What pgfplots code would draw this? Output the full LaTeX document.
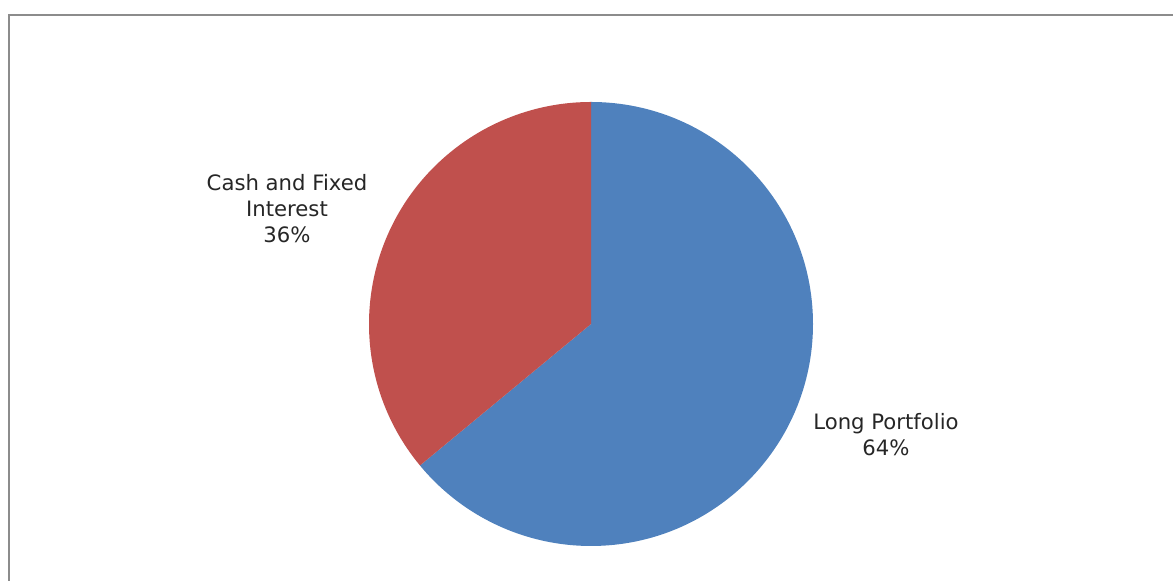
\documentclass[border=0pt]{standalone}
\usepackage{pgfplots}
\pgfplotsset{compat=1.18}
\usepackage{fontspec}
\setmainfont{DejaVu Sans}
\definecolor{pieblue}{HTML}{4F81BD}
\definecolor{piered}{HTML}{C0504D}
\definecolor{framegray}{HTML}{8C8C8C}
% data (percent)
\def\valLong{64}
\def\valCash{36}
\pgfmathsetmacro{\angA}{90}
\pgfmathsetmacro{\angB}{90-3.6*\valLong}
\pgfmathsetmacro{\angC}{\angB-3.6*\valCash}
\begin{document}
\begin{tikzpicture}
\begin{axis}[
  scale only axis, width=586.5pt, height=290.5pt,
  xmin=0, xmax=1173, ymin=0, ymax=581,
  hide axis, clip=false,
]
% frame (only top and left visible)
\draw[framegray, line width=1.2pt] (axis cs:9,-5) -- (axis cs:9,566) -- (axis cs:1180,566);
% Long Portfolio (clockwise from top)
\fill[pieblue] (axis cs:591,257) -- ++(\angA:111pt) arc[start angle=\angA, end angle=\angB, radius=111pt] -- cycle;
% Cash and Fixed Interest
\fill[piered] (axis cs:591,257) -- ++(\angB:111pt) arc[start angle=\angB, end angle=\angC, radius=111pt] -- cycle;
\node[align=center, font=\fontsize{10.6pt}{13pt}\selectfont, text=black!85] at (axis cs:287,372) {Cash and Fixed\\Interest\\36\%};
\node[align=center, font=\fontsize{10.6pt}{13pt}\selectfont, text=black!85] at (axis cs:886,146.5) {Long Portfolio\\64\%};
\end{axis}
\pgfresetboundingbox
\path[use as bounding box] (current axis.south west) rectangle (current axis.north east);
\end{tikzpicture}
\end{document}
